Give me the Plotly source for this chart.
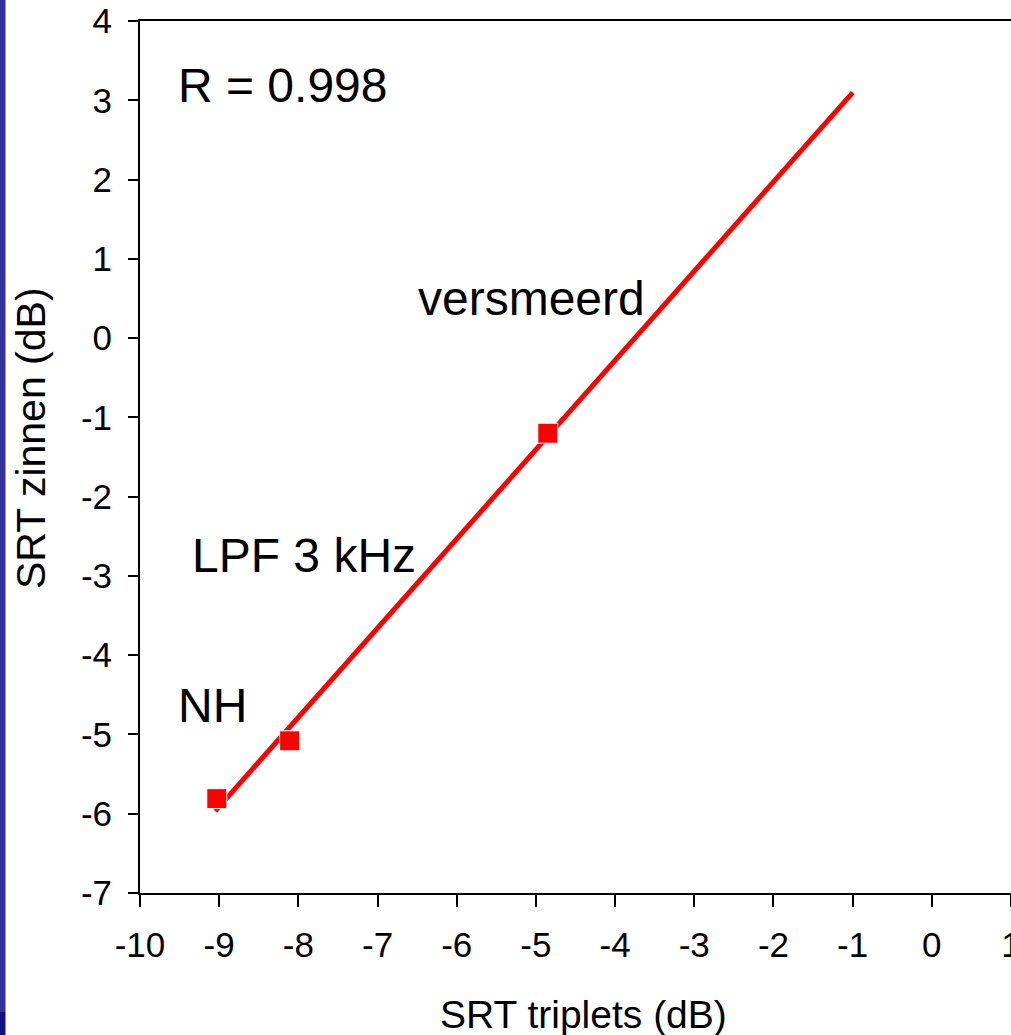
import numpy as np
import plotly.graph_objects as go

# Data
srt_triplets = [-9.03, -8.11, -4.85]
srt_zinnen = [-5.81, -5.08, -1.20]
trend_x_range = [-9.05, -1.0]
labels = ["R = 0.998", "versmeerd", "LPF 3 kHz", "NH"]
label_x = [-9.55, -6.52, -9.37, -9.55]
label_y = [3.19, 0.50, -2.74, -4.63]
x_ticks = list(range(-10, 2))
y_ticks = list(range(-7, 5))
x_title = "SRT triplets (dB)"
y_title = "SRT zinnen (dB)"

slope, intercept = np.polyfit(srt_triplets, srt_zinnen, 1)
tx = np.array(trend_x_range)
ty = slope * tx + intercept

FONT = "Liberation Sans, Arial, sans-serif"

fig = go.Figure()
fig.add_trace(go.Scatter(x=tx, y=ty, mode="lines",
                         line=dict(color="#ff0000", width=5), showlegend=False, hoverinfo="skip"))
fig.add_trace(go.Scatter(x=srt_triplets, y=srt_zinnen, mode="markers",
                         marker=dict(symbol="square", size=20, color="#ff0000",
                                     line=dict(color="white", width=1)),
                         showlegend=False))

for t, x, y in zip(labels, label_x, label_y):
    fig.add_annotation(x=x, y=y, text=t, showarrow=False, xanchor="left", yanchor="middle",
                       font=dict(family=FONT, size=48, color="black"))

W, H = 1011, 1035
ml, mr, mt, mb = 140, 0, 21, 142
pw = W - ml - mr
ph = H - mt - mb

def px_to_paper_x(px):
    return (px - ml) / pw

def py_to_paper_y(py):
    return (H - mb - py) / ph

# axis titles (placed as annotations for exact positioning)
fig.add_annotation(xref="paper", yref="paper", x=px_to_paper_x(583), y=py_to_paper_y(1014),
                   text=x_title, showarrow=False, xanchor="center", yanchor="middle",
                   borderpad=0, font=dict(family=FONT, size=39, color="black"))
fig.add_annotation(xref="paper", yref="paper", x=px_to_paper_x(31), y=py_to_paper_y(438),
                   text=y_title, showarrow=False, xanchor="center", yanchor="middle",
                   textangle=-90, font=dict(family=FONT, size=41, color="black"))

# left decorative strip
fig.add_shape(type="rect", xref="paper", yref="paper",
              x0=px_to_paper_x(0), x1=px_to_paper_x(5.5),
              y0=py_to_paper_y(0), y1=py_to_paper_y(1012),
              fillcolor="#333399", line=dict(width=0), layer="above")
fig.add_shape(type="rect", xref="paper", yref="paper",
              x0=px_to_paper_x(0), x1=px_to_paper_x(5.5),
              y0=py_to_paper_y(1012), y1=py_to_paper_y(1035),
              fillcolor="#10107f", line=dict(width=0), layer="above")

fig.update_layout(
    width=W, height=H,
    margin=dict(l=ml, r=mr, t=mt, b=mb),
    paper_bgcolor="white", plot_bgcolor="white",
    font=dict(family=FONT, color="black"),
    xaxis=dict(range=[-10, 1], tickvals=x_ticks, ticktext=[str(v) for v in x_ticks],
               showgrid=False, zeroline=False, showline=True, linecolor="black", linewidth=2,
               mirror=True, ticks="outside", ticklen=12, tickwidth=2, tickcolor="black",
               tickfont=dict(size=35), ticklabelstandoff=8, ticklabeloverflow="allow",
               automargin=False),
    yaxis=dict(range=[-7, 4], tickvals=y_ticks, ticktext=[str(v) for v in y_ticks],
               showgrid=False, zeroline=False, showline=True, linecolor="black", linewidth=2,
               mirror=True, ticks="outside", ticklen=10, tickwidth=2, tickcolor="black",
               tickfont=dict(size=35), ticklabelstandoff=9, automargin=False),
)

fig.write_html("out.html")
